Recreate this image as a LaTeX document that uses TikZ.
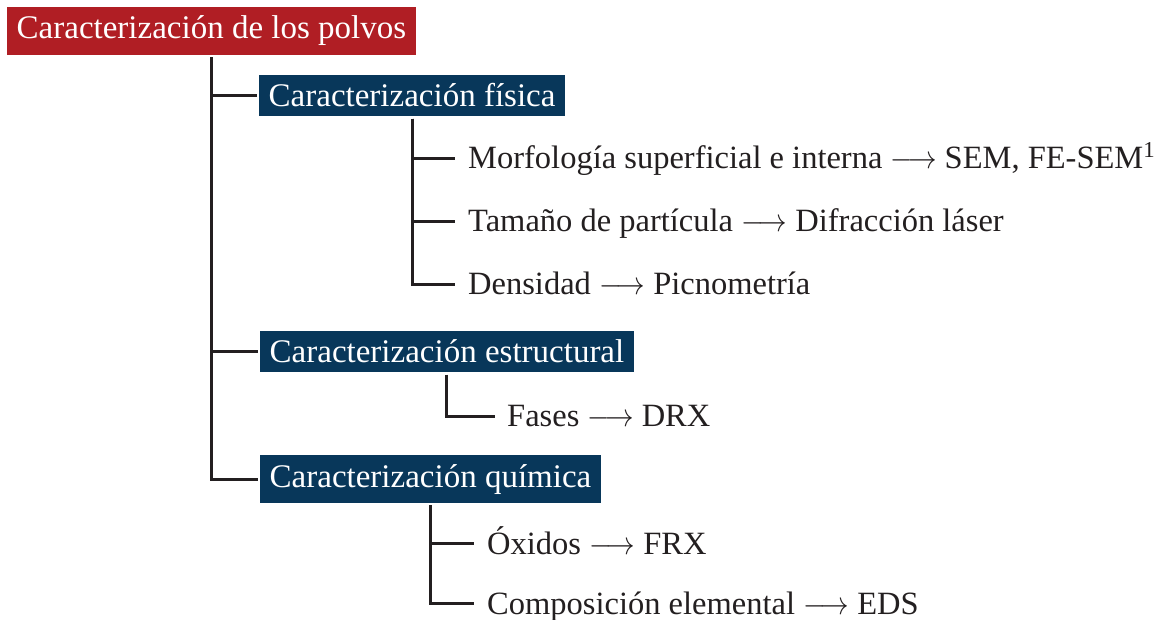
\RequirePackage{fix-cm}
\documentclass[tikz,border=0pt]{standalone}
\usepackage{fontspec}
\setmainfont{Liberation Serif}
\usepackage{graphicx}
\definecolor{rootred}{HTML}{B01E24}
\definecolor{boxnavy}{HTML}{08375A}
\definecolor{inkline}{HTML}{231F20}
\newcommand{\larr}{\scalebox{0.88}[1]{$\longrightarrow$}}
\begin{document}
\begin{tikzpicture}[x=1pt,y=-1pt,
  txt/.style={font=\fontsize{33}{40}\selectfont},
  leaftxt/.style={font=\fontsize{32.5}{40}\selectfont},
  rootbox/.style={txt, fill=rootred, text=white, inner xsep=9.5pt, inner ysep=9pt, anchor=base west},
  catbox/.style={txt, fill=boxnavy, text=white, inner xsep=9.5pt, inner ysep=9pt, anchor=base west},
  leaf/.style={leaftxt, text=inkline, inner xsep=10pt, inner ysep=0pt, text height=24pt, text depth=3pt, anchor=base west},
  conn/.style={draw=inkline, line width=3pt}]
\useasboundingbox (0,0) rectangle (1160,620);
\node[rootbox] (root) at (7,39) {Caracterización de los polvos};
\node[catbox] (fis) at (259,107) {Caracterización física};
\node[catbox] (est) at (260,363) {Caracterización estructural};
\node[catbox] (qui) at (260,487) {Caracterización química};
\node[leaf] (morf) at (458,169) {Morfología superficial e interna \larr{} SEM, FE-SEM\textsuperscript{1}};
\node[leaf] (tam) at (458,232) {Tamaño de partícula \larr{} Difracción láser};
\node[leaf] (dens) at (458,295) {Densidad \larr{} Picnometría};
\node[leaf] (fas) at (497,427) {Fases \larr{} DRX};
\node[leaf] (oxi) at (477,554) {Óxidos \larr{} FRX};
\node[leaf] (comp) at (477,614) {Composición elemental \larr{} EDS};
\draw[conn] ([yshift=-2pt]root.south) |- ([xshift=-2pt]fis.west);
\draw[conn] ([yshift=-2pt]root.south) |- ([xshift=-2pt]est.west);
\draw[conn] ([yshift=-2pt]root.south) |- ([xshift=-2pt]qui.west);
\draw[conn] ([yshift=-2pt]fis.south) |- ([xshift=-3pt]morf.west);
\draw[conn] ([yshift=-2pt]fis.south) |- ([xshift=-3pt]tam.west);
\draw[conn] ([yshift=-2pt]fis.south) |- ([xshift=-3pt]dens.west);
\draw[conn] ([yshift=-2pt]est.south) |- ([xshift=-2pt]fas.west);
\draw[conn] ([yshift=-2pt]qui.south) |- ([xshift=-3pt]oxi.west);
\draw[conn] ([yshift=-2pt]qui.south) |- ([xshift=-3pt]comp.west);
\end{tikzpicture}
\end{document}
